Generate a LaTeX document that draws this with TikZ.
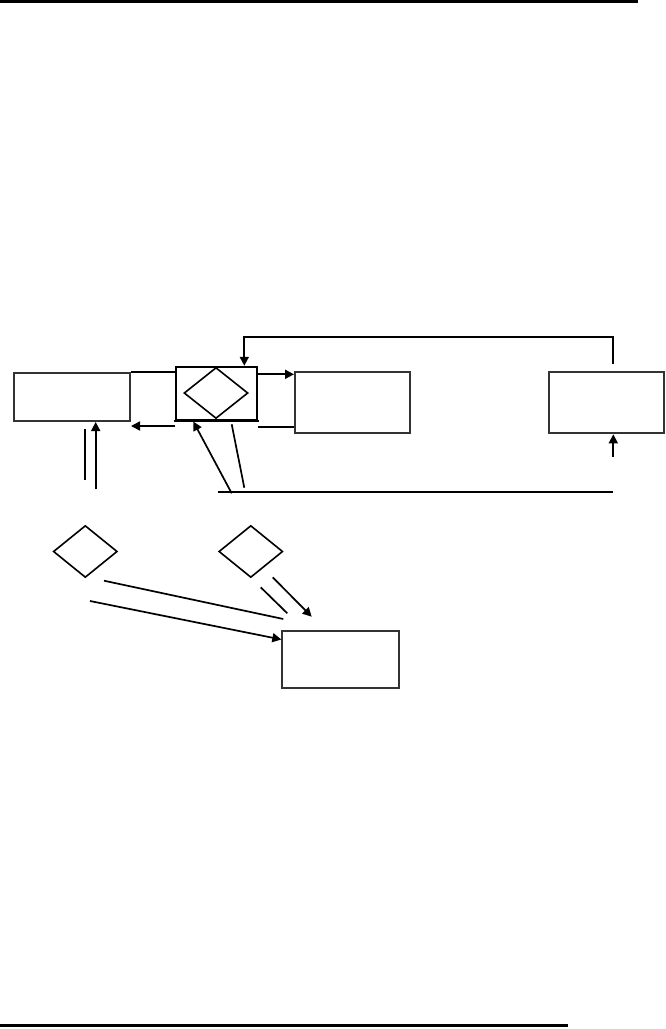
\documentclass[tikz,border=0pt]{standalone}
\usetikzlibrary{arrows.meta,shapes.geometric}
\begin{document}
\begin{tikzpicture}[x=1pt,y=-1pt,
  boxnode/.style={draw=black!80,line width=2pt,rectangle,inner sep=0pt},
  dia/.style={draw=black,line width=1.6pt,diamond,inner sep=0pt,minimum width=64pt,minimum height=52pt},
  conn/.style={draw=black,line width=1.7pt},
  arr/.style={conn,-{Triangle[length=9pt,width=9pt]}},
  rule/.style={draw=black,line width=3pt}]
\useasboundingbox (0,0) rectangle (665,1029);
% page rules
\coordinate (ta) at (0,1.5); \coordinate (tb) at (638,1.5);
\draw[rule] (ta) -- (tb);
\coordinate (ba) at (0,1025.5); \coordinate (bb) at (568,1025.5);
\draw[rule,line width=2.5pt] (ba) -- (bb);
% boxes
\node[boxnode,minimum width=116pt,minimum height=48pt] (L) at (72,397) {};
\node[boxnode,draw=black,line width=1.7pt,minimum width=81.6pt,minimum height=53.3pt] (C) at (216.5,393.3) {};
\node[dia,minimum width=64pt,minimum height=51pt] (CD) at (216,393) {};
\node[boxnode,minimum width=115pt,minimum height=61pt] (M) at (352.5,402.8) {};
\node[boxnode,minimum width=115pt,minimum height=61pt] (R) at (606.5,402.8) {};
\node[boxnode,minimum width=116.7pt,minimum height=56.7pt] (B) at (340.7,659.3) {};
\node[dia] (D1) at (85.3,551.5) {};
\node[dia] (D2) at (250.8,551.5) {};
% slightly longer bottom edge of centre box
\draw[conn] ([xshift=-1pt]C.south west) -- ([xshift=1pt]C.south east);
% connectors around the centre box
\draw[conn] (L.north east) -- (L.north east -| C.west);
\draw[arr] (C.west |- 0,426) -- (L.east |- 0,426);
\draw[arr] (C.east |- 0,374.3) -- (M.west |- 0,374.3);
\draw[conn] (C.east |- 0,426.7) -- (M.west |- 0,426.7);
% feedback from right box to centre box
\coordinate (fb1) at (613.3,364.3);
\coordinate (fb2) at (613.3,336.7);
\coordinate (fb3) at (244.3,336.7);
\draw[arr] (fb1) -- (fb2) -- (fb3) -- (fb3 |- C.north);
% arrow into right box from below
\coordinate (rin) at (613.3,457);
\draw[arr] (rin) -- (rin |- R.south);
% long horizontal line
\coordinate (h1) at (218.3,491.7);
\coordinate (h2) at (613.3,491.7);
\draw[conn] (h1) -- (h2);
% diagonal lines to centre box
\coordinate (d1) at (231.7,493.3);
\draw[arr] (d1) -- (193.3,421.5);
\coordinate (d2a) at (244.3,487.7);
\coordinate (d2b) at (231.7,424.3);
\draw[conn] (d2a) -- (d2b);
% vertical lines under left box
\coordinate (v1a) at (85,429);
\coordinate (v1b) at (85,480);
\draw[conn] (v1a) -- (v1b);
\coordinate (v2) at (95.7,489.3);
\draw[arr] (v2) -- (v2 |- L.south);
% lines from diamonds to bottom box
\coordinate (e1a) at (104,580.7);
\coordinate (e1b) at (283.3,619);
\draw[conn] (e1a) -- (e1b);
\coordinate (e2a) at (90,601);
\draw[arr] (e2a) -- (B.west |- 0,639.5);
\coordinate (e3a) at (260.7,587.3);
\coordinate (e3b) at (287.3,613.3);
\draw[conn] (e3a) -- (e3b);
\coordinate (e4a) at (272.7,577.3);
\coordinate (e4b) at (311.7,616.7);
\draw[arr] (e4a) -- (e4b);
\end{tikzpicture}
\end{document}
